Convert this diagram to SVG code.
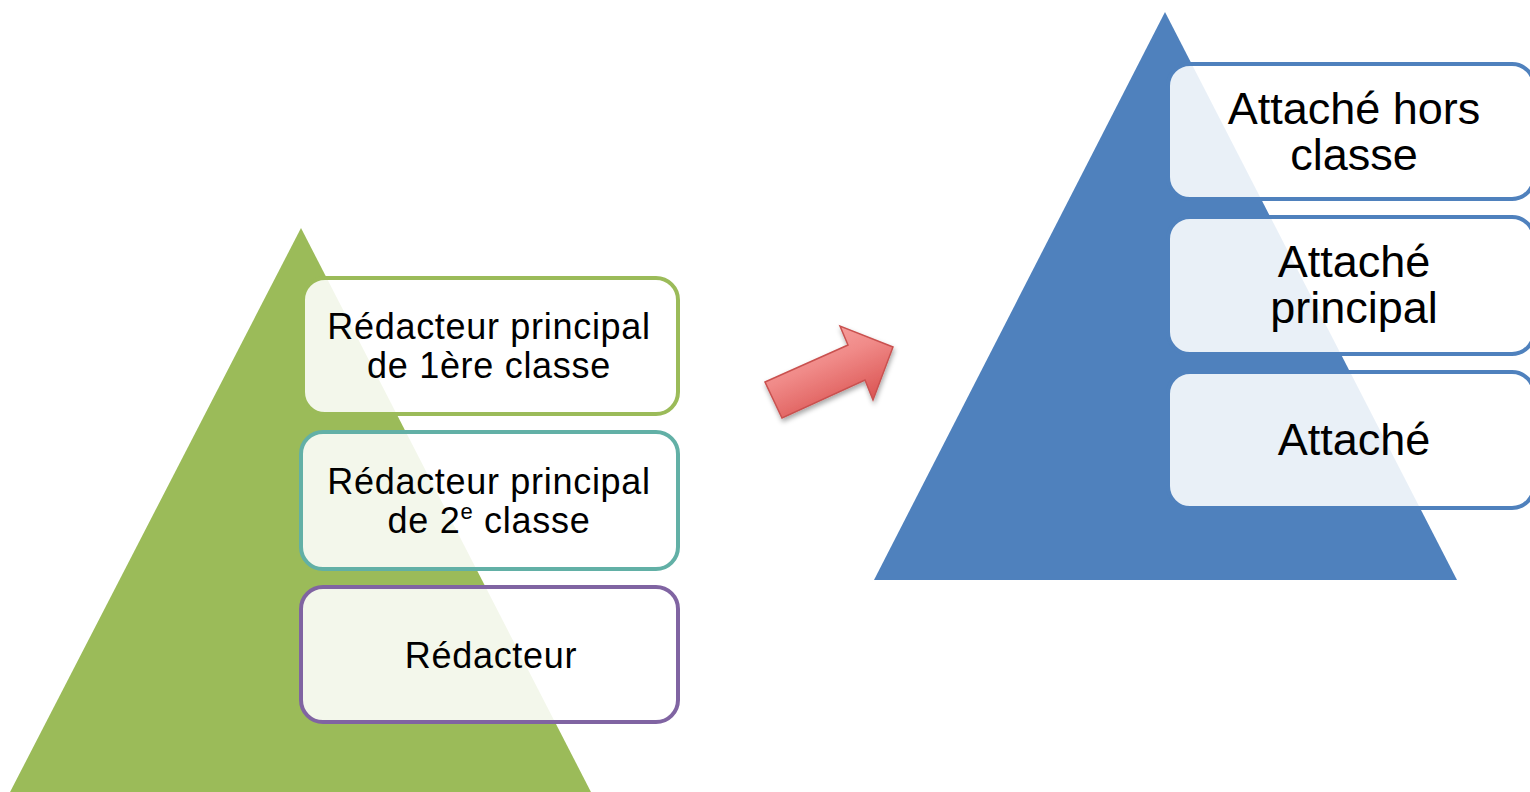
<svg xmlns="http://www.w3.org/2000/svg" width="1530" height="792" viewBox="0 0 1530 792">
<defs>
<style>
.box{fill:#ffffff;fill-opacity:0.88;stroke-width:4}
.tl{font-family:"Liberation Sans",Arial,sans-serif;font-size:36px;fill:#000;text-anchor:middle;letter-spacing:0.7px}
.tr{font-family:"Liberation Sans",Arial,sans-serif;font-size:45px;fill:#000;text-anchor:middle}
</style>
<linearGradient id="ag" x1="0" y1="0" x2="0.6" y2="1">
<stop offset="0" stop-color="#FBB0AE"/>
<stop offset="0.5" stop-color="#F08A88"/>
<stop offset="1" stop-color="#D9504E"/>
</linearGradient>
<filter id="sh" x="-20%" y="-20%" width="150%" height="150%">
<feDropShadow dx="1" dy="3" stdDeviation="2.5" flood-color="#000" flood-opacity="0.35"/>
</filter>
</defs>
<rect width="1530" height="792" fill="#ffffff"/>
<g id="pyramid-left">
<polygon points="301,228 8,796 593,796" fill="#9BBB59"/>
</g>
<g id="pyramid-right">
<polygon points="1165,12 874,580 1457,580" fill="#4F81BD"/>
</g>
<g id="node-redacteur-p1">
<rect class="box" x="303" y="278" width="375" height="136" rx="22" stroke="#9BBB59"/>
<text class="tl" x="489" y="339">Rédacteur principal</text>
<text class="tl" x="489" y="378">de 1ère classe</text>
</g>
<g id="node-redacteur-p2">
<rect class="box" x="301" y="432" width="377" height="137" rx="22" stroke="#62B0A6"/>
<text class="tl" x="489" y="494">Rédacteur principal</text>
<text class="tl" x="489" y="533">de 2<tspan font-size="22" dy="-14">e</tspan><tspan dy="14"> classe</tspan></text>
</g>
<g id="node-redacteur">
<rect class="box" x="301" y="587" width="377" height="135" rx="22" stroke="#8064A2"/>
<text class="tl" x="491" y="668">Rédacteur</text>
</g>
<g id="node-attache-hc">
<rect class="box" x="1168" y="64" width="366" height="135" rx="22" stroke="#4F81BD"/>
<text class="tr" x="1354" y="124">Attaché hors</text>
<text class="tr" x="1354" y="170">classe</text>
</g>
<g id="node-attache-p">
<rect class="box" x="1168" y="217" width="366" height="137" rx="22" stroke="#4F81BD"/>
<text class="tr" x="1354" y="277">Attaché</text>
<text class="tr" x="1354" y="323">principal</text>
</g>
<g id="node-attache">
<rect class="box" x="1168" y="372" width="366" height="136" rx="22" stroke="#4F81BD"/>
<text class="tr" x="1354" y="455">Attaché</text>
</g>
<g id="connectors">
<polygon points="765,382 848,345 840,326 893,347 873,400 865,380 782,418" fill="url(#ag)" stroke="#C9514F" stroke-width="1.5" stroke-linejoin="miter" filter="url(#sh)"/>
</g>
</svg>
